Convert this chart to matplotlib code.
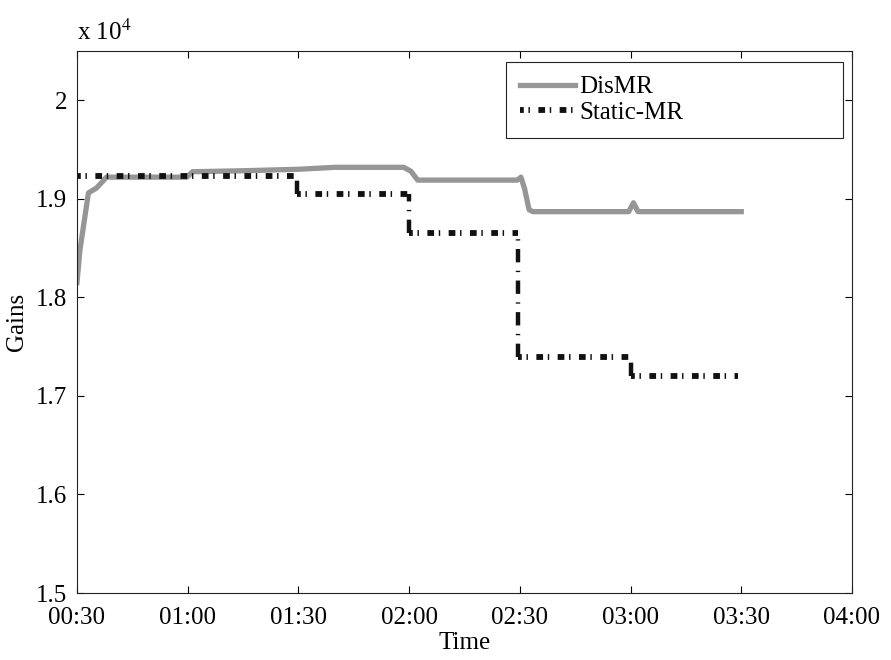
import matplotlib
matplotlib.use('Agg')
import matplotlib.pyplot as plt
from matplotlib.ticker import FuncFormatter, MultipleLocator
import numpy as np

# 폰트 설정 (Times 계열)
plt.rcParams['font.family'] = ['Liberation Serif', 'DejaVu Serif']
plt.rcParams['mathtext.fontset'] = 'stix'

# 시간(분) / 이득 데이터
dis_time = [30, 30.8, 33.1, 35.3, 38.0, 59.8, 61.3, 75, 90, 100, 118.5, 120.5, 122.3,
            149.3, 150.3, 151.3, 152.5, 153.5, 179.5, 180.8, 182.0, 210]
dis_gain = [18150, 18480, 19060, 19110, 19220, 19220, 19275, 19285, 19300, 19320, 19320, 19280, 19190,
            19190, 19220, 19100, 18890, 18870, 18870, 18960, 18870, 18870]

static_time = [30, 89.5, 120, 149.5, 180, 209]
static_gain = [19230, 19050, 18650, 17400, 17200, 17200]

tick_minutes = [30, 60, 90, 120, 150, 180, 210, 240]

FS = 18

fig = plt.figure(figsize=(8.91, 6.60), dpi=100)
ax = fig.add_axes([0.0864, 0.1015, 0.8698, 0.8212])

ax.plot(dis_time, np.array(dis_gain) / 1e4, color='#969696', lw=3.8,
        solid_joinstyle='round', label='DisMR')

# Static-MR: 가로 구간 / 세로 구간 따로 그림 (세로 점선 패턴이 더 김)
sg = np.array(static_gain) / 1e4
ax.hlines(sg[:-1], static_time[:-1], static_time[1:], colors='#111111', lw=4.2,
          linestyles=(0.5, (1.15, 0.8, 0.25, 1.45)), label='Static-MR')
ax.vlines(static_time[1:-1], sg[1:-1], sg[:-2], colors='#111111', lw=3.2,
          linestyles=(0, (3.0, 1.9, 0.3, 1.9)))

ax.set_xlim(30, 240)
ax.set_ylim(1.5, 2.05)
ax.set_xticks(tick_minutes)
ax.xaxis.set_major_formatter(FuncFormatter(lambda m, p: f"{int(m) // 60:02d}:{int(m) % 60:02d}"))
ax.yaxis.set_major_locator(MultipleLocator(0.1))
ax.yaxis.set_major_formatter(FuncFormatter(lambda v, p: f"{v:g}"))

ax.tick_params(direction='in', length=5, width=0.8, top=True, right=True,
               labelsize=FS)
ax.tick_params(axis='x', pad=10)
ax.tick_params(axis='y', pad=7)
for s in ax.spines.values():
    s.set_linewidth(0.8)
    s.set_color('#222222')

ax.set_xlabel('Time', fontsize=FS, labelpad=2)
ax.set_ylabel('Gains', fontsize=FS, labelpad=6)
ax.text(0.0, 1.021, r'x 10$^{4}$', transform=ax.transAxes, fontsize=FS,
        ha='left', va='baseline')

leg = ax.legend(loc='upper left', bbox_to_anchor=(0.5535, 0.0, 0.4349, 0.9797),
                mode='expand', borderaxespad=0, fontsize=FS, handlelength=2.2,
                handletextpad=0.2, labelspacing=0.12, borderpad=0.55,
                fancybox=False, framealpha=1)
leg.get_frame().set_edgecolor('#222222')
leg.get_frame().set_linewidth(0.8)

fig.savefig('out.png', dpi=100)
